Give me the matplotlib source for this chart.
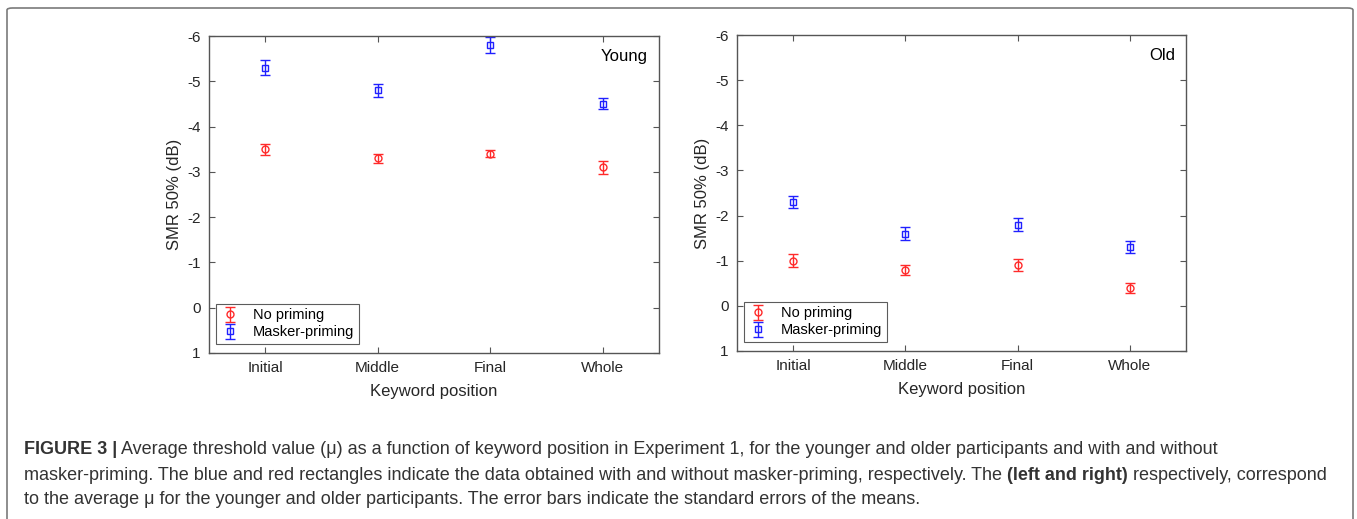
import numpy as np
import matplotlib
matplotlib.use("Agg")
import matplotlib.pyplot as plt
from matplotlib.patches import FancyBboxPatch

# Données
positions = ["Initial", "Middle", "Final", "Whole"]

young_none = [-3.5, -3.3, -3.4, -3.1]
young_none_err = [0.12, 0.10, 0.08, 0.15]
young_mask = [-5.3, -4.8, -5.8, -4.5]
young_mask_err = [0.16, 0.14, 0.17, 0.12]

old_none = [-1.0, -0.8, -0.9, -0.4]
old_none_err = [0.15, 0.11, 0.13, 0.11]
old_mask = [-2.3, -1.6, -1.8, -1.3]
old_mask_err = [0.14, 0.14, 0.15, 0.14]

plt.rcParams['font.family'] = ['Liberation Sans', 'DejaVu Sans']
plt.rcParams['axes.unicode_minus'] = False

fig = plt.figure(figsize=(13.57, 5.19), dpi=100)
W, H = 1357, 519

# Cadre arrondi autour de la figure
cadre = FancyBboxPatch((7 / W, -0.05), 1346 / W, 1 - 8 / H + 0.05,
                       boxstyle="round,pad=0,rounding_size=0.004",
                       transform=fig.transFigure, fill=False,
                       edgecolor="#7a7a7a", linewidth=1.2)
fig.patches.append(cadre)

gris = "#555555"
texte = "#262626"


def trace(ax, none, none_err, mask, mask_err, nom):
    x = np.arange(1, len(positions) + 1)
    ax.errorbar(x, none, yerr=none_err, fmt='o', color='#ff2a2a', mfc='none',
                markersize=5, capsize=3.5, elinewidth=1, markeredgewidth=1,
                label='No priming')
    ax.errorbar(x, mask, yerr=mask_err, fmt='s', color='#2020ff', mfc='none',
                markersize=4.5, capsize=3.5, elinewidth=1, markeredgewidth=1,
                label='Masker-priming')
    ax.set_xlim(0.5, 4.5)
    ax.set_ylim(1, -6)
    ax.set_xticks(x)
    ax.set_xticklabels(positions)
    ax.set_yticks(np.arange(-6, 2, 1))
    ax.tick_params(direction='in', top=True, right=True, length=4,
                   colors=gris, labelcolor=texte, labelsize=11, pad=6)
    for s in ax.spines.values():
        s.set_color(gris)
        s.set_linewidth(1.0)
    ax.set_xlabel("Keyword position", fontsize=12, color=texte, labelpad=6)
    ax.set_ylabel("SMR 50% (dB)", fontsize=12, color=texte, labelpad=4)
    ax.text(0.975, 0.935, nom, transform=ax.transAxes, ha='right', va='center',
            fontsize=12, color='black')
    leg = ax.legend(loc='lower left', bbox_to_anchor=(0.01, 0.02), fontsize=10.5,
                    frameon=True, fancybox=False, edgecolor='#333333',
                    handlelength=1.2, handletextpad=1.0, borderpad=0.3,
                    labelspacing=0.2, borderaxespad=0.2)
    leg.get_frame().set_linewidth(0.8)


ax1 = fig.add_axes([209 / W, 1 - 353 / H, 450 / W, 317 / H])
trace(ax1, young_none, young_none_err, young_mask, young_mask_err, "Young")

ax2 = fig.add_axes([737 / W, 1 - 351 / H, 449 / W, 316 / H])
trace(ax2, old_none, old_none_err, old_mask, old_mask_err, "Old")

# Légende de la figure (texte sous les graphiques), morceaux gras / normaux
taille = 13
couleur = "#333333"
lignes = [
    [("FIGURE 3 |", 'bold'),
     (" Average threshold value (\u03bc) as a function of keyword position in Experiment 1, "
      "for the younger and older participants and with and without", 'normal')],
    [("masker-priming. The blue and red rectangles indicate the data obtained with and "
      "without masker-priming, respectively. The ", 'normal'),
     ("(left and right)", 'bold'),
     (" respectively, correspond", 'normal')],
    [("to the average \u03bc for the younger and older participants. The error bars "
      "indicate the standard errors of the means.", 'normal')],
]
y0 = [450, 475, 500]
for y, ligne in zip(y0, lignes):
    prec = None
    for morceau, poids in ligne:
        if prec is None:
            prec = fig.text(24 / W, 1 - y / H, morceau, fontsize=taille,
                            fontweight=poids, color=couleur, va='center')
        else:
            # on accroche le morceau suivant au bord droit du précédent
            prec = ax1.annotate(morceau, xy=(1, 0), xycoords=prec,
                                fontsize=taille, fontweight=poids,
                                color=couleur, va='bottom', ha='left',
                                annotation_clip=False)

fig.savefig("out.png", dpi=100)
